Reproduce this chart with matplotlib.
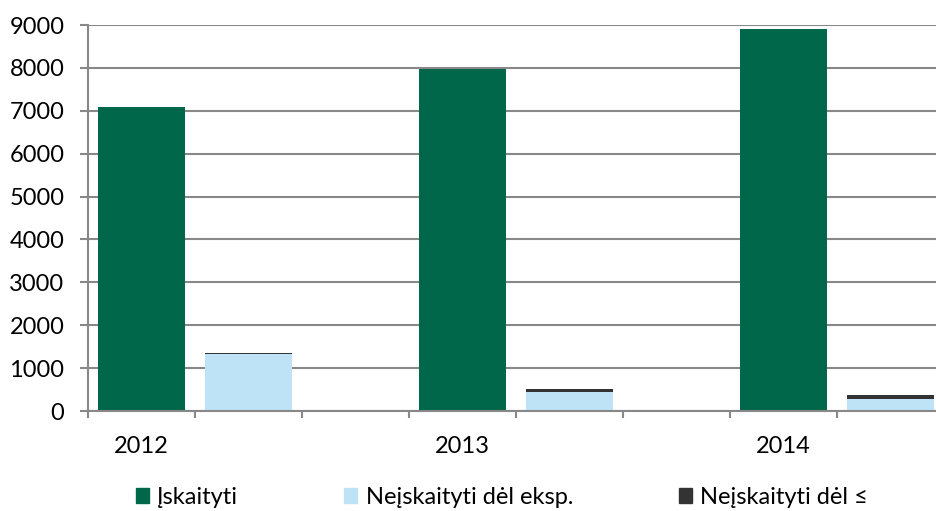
import matplotlib.pyplot as plt
from matplotlib.patches import Patch
import numpy as np

# data
years = ["2012", "2013", "2014"]
iskaityti = [7090, 7970, 8910]
neisk_eksp = [1340, 445, 285]
neisk_le = [15, 60, 95]
legend_labels = ["Įskaityti", "Neįskaityti dėl eksp.", "Neįskaityti dėl ≤"]

green = "#00674B"
lightblue = "#BEE3F6"
darkgray = "#333333"
gridcol = "#888888"

plt.rcParams['font.family'] = ['Lato', 'DejaVu Sans']

fig = plt.figure(figsize=(9.36, 5.11), dpi=100)
ax = fig.add_axes([88/936, 100/511, 856/936, 386/511])

# each year takes three slots: green bar, blue+gray stack, empty slot
pos_green = np.arange(len(years)) * 3
pos_blue = pos_green + 1
w = 0.82

ax.bar(pos_green, iskaityti, w, color=green, zorder=3)
ax.bar(pos_blue, neisk_eksp, w, color=lightblue, zorder=3)
ax.bar(pos_blue, neisk_le, w, bottom=neisk_eksp, color=darkgray, zorder=3)

ax.set_xlim(-0.5, 7.5)
ax.set_ylim(0, 9000)
ax.set_yticks(np.arange(0, 9001, 1000))
ax.yaxis.grid(True, color=gridcol, linewidth=1.5)
ax.set_axisbelow(True)

ax.set_xticks(np.arange(-0.5, 8, 1))
ax.set_xticklabels([])
ax.set_xticks(pos_green, minor=True)
ax.set_xticklabels(years, minor=True)
ax.tick_params(axis='x', which='major', length=5, width=1.5, color=gridcol, direction='out')
ax.tick_params(axis='x', which='minor', length=0, pad=18, labelsize=17)
ax.tick_params(axis='y', length=6, width=1.5, color=gridcol, pad=11, labelsize=17)

for s in ["top", "right"]:
    ax.spines[s].set_visible(False)
for s in ["left", "bottom"]:
    ax.spines[s].set_color(gridcol)
    ax.spines[s].set_linewidth(1.5)
ax.spines["bottom"].set_zorder(4)

handles = [Patch(color=c) for c in (green, lightblue, darkgray)]
fig.legend(handles, legend_labels, loc="center", bbox_to_anchor=(502/936, 1 - 497/511),
           ncol=3, frameon=False, fontsize=17, handlelength=0.55, handleheight=0.6,
           handletextpad=0.35, columnspacing=4.5)

fig.savefig("out.png", dpi=100)
